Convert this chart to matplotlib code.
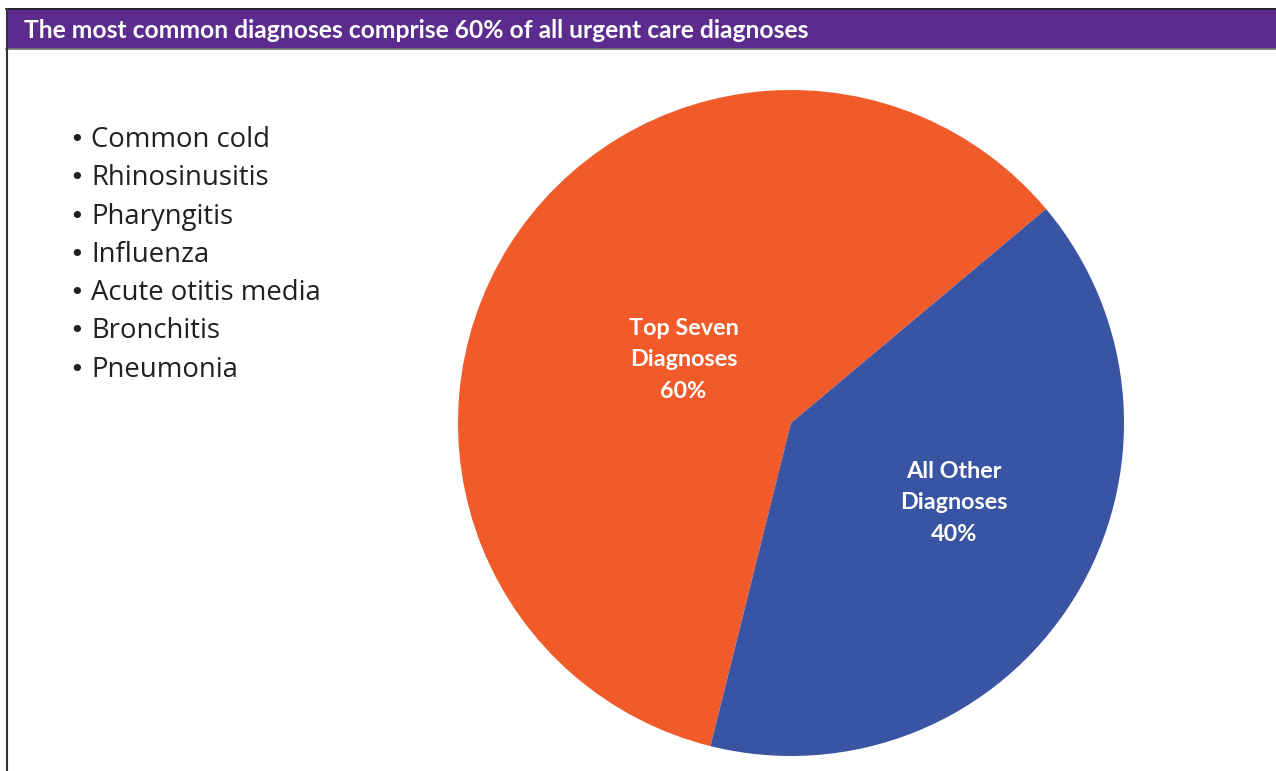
import numpy as np
import matplotlib.pyplot as plt
from matplotlib.patches import Rectangle
from matplotlib.lines import Line2D

# datos
categorias = ["Top Seven\nDiagnoses", "All Other\nDiagnoses"]
porcentajes = [60, 40]
colores = ["#F15A29", "#3A54A4"]
diagnosticos = ["Common cold", "Rhinosinusitis", "Pharyngitis", "Influenza",
                "Acute otitis media", "Bronchitis", "Pneumonia"]
titulo = "The most common diagnoses comprise 60% of all urgent care diagnoses"

W, H = 1276, 771
fig = plt.figure(figsize=(W / 100, H / 100), dpi=100)
fig.patch.set_facecolor("white")

# barra de titulo
fig.patches.append(Rectangle((6 / W, 1 - 49 / H), 1 - 6 / W, 41 / H,
                             transform=fig.transFigure, facecolor="#5B2C8E",
                             edgecolor="none", zorder=1))
fig.lines.append(Line2D([6 / W, 1], [1 - 8.5 / H] * 2, transform=fig.transFigure,
                        color="#222222", lw=1.2))
fig.lines.append(Line2D([6 / W, 1], [1 - 49 / H] * 2, transform=fig.transFigure,
                        color="#777777", lw=1.2))
fig.lines.append(Line2D([6.5 / W] * 2, [0, 1 - 8.5 / H], transform=fig.transFigure,
                        color="#333333", lw=1.5))
fig.text(24 / W, 1 - 30 / H, titulo, color="white", fontsize=17.7, fontweight="bold",
         family="Lato", va="center", ha="left")

# lista de diagnosticos
for i, d in enumerate(diagnosticos):
    y = 1 - (140 + i * 38.3) / H
    fig.text(69 / W, y, "\u2022", color="#231F20", fontsize=18,
             family="DejaVu Sans", va="center", ha="left")
    fig.text(91 / W, y, d, color="#231F20", fontsize=19.8,
             family="Open Sans", va="center", ha="left")

# grafico circular
cx, cy, r = 791, 423, 333
ax = fig.add_axes([(cx - r) / W, 1 - (cy + r) / H, 2 * r / W, 2 * r / H])
wedges, _ = ax.pie(porcentajes, colors=colores, startangle=40, counterclock=True,
                   wedgeprops=dict(linewidth=0))
ax.set_xlim(-1, 1)
ax.set_ylim(-1, 1)
ax.set_aspect("equal")
ax.axis("off")

dist = [0.375, 0.545]
giro = [1.5, 6.0]
for w, cat, p, dd, g in zip(wedges, categorias, porcentajes, dist, giro):
    ang = np.deg2rad((w.theta1 + w.theta2) / 2 + g)
    ax.text(dd * np.cos(ang), dd * np.sin(ang), f"{cat}\n{p}%", color="white",
            fontsize=16.8, fontweight="bold", family="Lato", ha="center",
            va="center", linespacing=1.62)

fig.savefig("out.png", dpi=100)
